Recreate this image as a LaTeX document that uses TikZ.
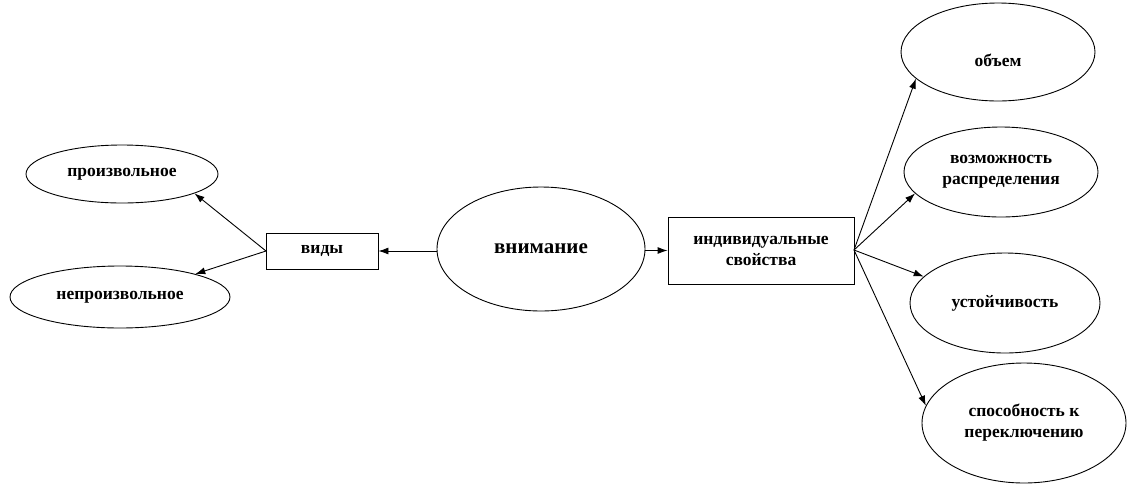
\documentclass[tikz,border=0pt]{standalone}
\usepackage{fontspec}
\setmainfont{Liberation Serif}
\usetikzlibrary{shapes.geometric,arrows.meta}
\begin{document}
\begin{tikzpicture}[x=1pt,y=-1pt,
  ell/.style={draw,ellipse,line width=0.9pt,inner sep=0pt,align=center,font=\bfseries\fontsize{17.5}{21}\selectfont},
  box/.style={draw,rectangle,line width=0.9pt,inner sep=0pt,align=center,font=\bfseries\fontsize{17.5}{21}\selectfont},
  arr/.style={line width=0.9pt,-{Latex[length=10pt,width=7pt]}}]
\useasboundingbox (0,0) rectangle (1127,483);
\node[ell,minimum width=192pt,minimum height=58pt] (pr) at (122,174) {произвольное};
\node[ell,minimum width=220pt,minimum height=62pt] (np) at (120,297) {непроизвольное};
\node[box,minimum width=112pt,minimum height=36pt] (vid) at (322,251) {виды};
\node[ell,minimum width=208pt,minimum height=124pt,font=\bfseries\fontsize{21}{25}\selectfont] (vn) at (541,249) {внимание};
\node[box,minimum width=186pt,minimum height=67pt] (ind) at (761,250.5) {индивидуальные\\свойства};
\node[ell,minimum width=194pt,minimum height=98pt,text height=33pt,text depth=4pt] (ob) at (998,52) {объем};
\node[ell,minimum width=194pt,minimum height=90pt] (vo) at (1001,172) {возможность\\распределения};
\node[ell,minimum width=190pt,minimum height=100pt] (us) at (1005,303) {устойчивость};
\node[ell,minimum width=204pt,minimum height=120pt] (sp) at (1024,423) {способность к\\переключению};
\coordinate (ia) at (854,250);
\coordinate (va) at (266,251);
\draw[arr] (vn.west |- vid.east) -- (vid.east);
\draw[arr] (vn.east |- ind.west) -- (ind.west);
\draw[arr] (va) -- (pr.-15);
\draw[arr] (va) -- (np.17);
\draw[arr] (ia) -- (ob.198);
\draw[arr] (ia) -- (vo.194);
\draw[arr] (ia) -- (us.162);
\draw[arr] (ia) -- (sp.170);
\end{tikzpicture}
\end{document}
